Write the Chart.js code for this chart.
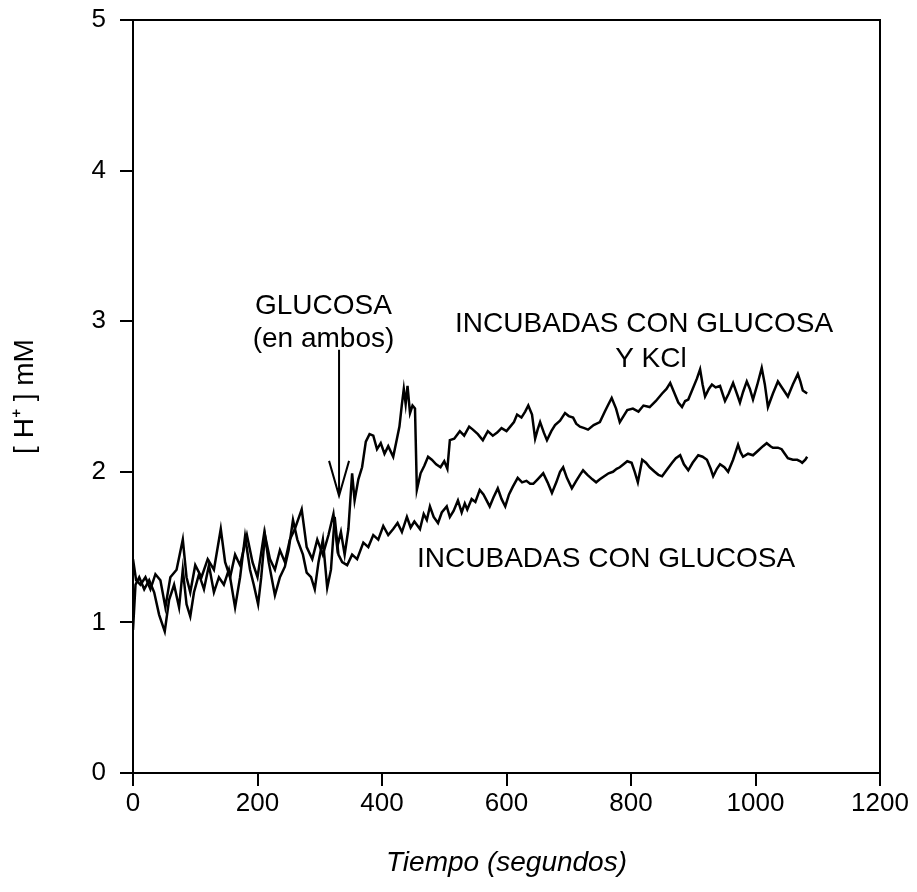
<!DOCTYPE html>
<html lang="es">
<head>
<meta charset="UTF-8">
<title>[H+] frente al tiempo</title>
<script src="https://cdn.jsdelivr.net/npm/chart.js"></script>
<style>
    body { margin: 0; background: #fff; }
    #wrap { width: 917px; height: 892px; }
</style>
</head>
<body>
<div id="wrap"><canvas id="chartCanvas" width="917" height="892"></canvas></div>
<script>
// Incubadas con glucosa y KCl
const tiempoKcl = [0, 5, 12, 20, 28, 36, 44, 52, 60, 70, 80, 86, 92, 100, 110, 120, 130, 141, 148, 156,
    164, 172, 183, 192, 200, 211, 220, 228, 236, 244, 252, 260, 271, 279, 288, 296, 305, 314, 322, 328,
    334, 340, 346, 352, 356, 362, 368, 374, 380, 386, 392, 398, 404, 410, 418, 424, 428, 432, 435, 438,
    441, 445, 449, 453, 456, 462, 468, 474, 480, 487, 494, 500, 505, 509, 516, 525, 532, 540, 546, 554,
    562, 570, 578, 585, 592, 600, 606, 612, 617, 624, 630, 635, 641, 646, 650, 654, 660, 665, 672, 678,
    686, 694, 700, 707, 712, 718, 725, 731, 740, 750, 758, 764, 769, 776, 782, 788, 794, 803, 812, 820,
    830, 840, 850, 857, 863, 870, 876, 882, 887, 892, 899, 906, 911, 915, 919, 925, 930, 936, 943, 947,
    951, 957, 964, 970, 975, 980, 986, 991, 996, 1003, 1010, 1015, 1020, 1028, 1036, 1044, 1052, 1060, 1068, 1072,
    1076, 1083];
const hKcl = [1.42, 1.28, 1.25, 1.30, 1.22, 1.32, 1.28, 1.10, 1.30, 1.35, 1.55, 1.30, 1.20, 1.38, 1.30, 1.42, 1.35, 1.62, 1.40, 1.30,
    1.45, 1.38, 1.58, 1.40, 1.30, 1.60, 1.42, 1.35, 1.48, 1.40, 1.55, 1.62, 1.75, 1.50, 1.42, 1.55, 1.45, 1.58, 1.72, 1.50,
    1.60, 1.45, 1.62, 1.99, 1.81, 1.95, 2.03, 2.20, 2.25, 2.24, 2.15, 2.19, 2.12, 2.17, 2.10, 2.22, 2.30, 2.45, 2.55, 2.45,
    2.57, 2.39, 2.44, 2.42, 1.88, 1.99, 2.04, 2.10, 2.08, 2.05, 2.03, 2.07, 2.02, 2.21, 2.22, 2.27, 2.24, 2.30, 2.28, 2.25,
    2.21, 2.27, 2.24, 2.26, 2.29, 2.27, 2.30, 2.33, 2.38, 2.36, 2.40, 2.44, 2.38, 2.22, 2.28, 2.33, 2.26, 2.21, 2.27, 2.31,
    2.34, 2.39, 2.37, 2.36, 2.32, 2.30, 2.29, 2.28, 2.31, 2.33, 2.40, 2.45, 2.49, 2.42, 2.33, 2.37, 2.41, 2.42, 2.40, 2.44,
    2.43, 2.47, 2.52, 2.55, 2.59, 2.52, 2.46, 2.43, 2.47, 2.48, 2.55, 2.62, 2.68, 2.58, 2.50, 2.55, 2.58, 2.56, 2.57, 2.52,
    2.47, 2.52, 2.59, 2.52, 2.46, 2.53, 2.60, 2.55, 2.48, 2.58, 2.69, 2.58, 2.43, 2.52, 2.60, 2.55, 2.50, 2.58, 2.65, 2.60,
    2.54, 2.52];

// Incubadas con glucosa
const tiempoGlu = [0, 4, 10, 18, 26, 34, 42, 51, 58, 66, 74, 80, 86, 92, 98, 106, 114, 122, 130, 138,
    146, 154, 164, 172, 180, 188, 194, 201, 206, 212, 218, 228, 236, 244, 250, 257, 264, 273, 279, 286,
    292, 298, 305, 312, 318, 324, 330, 336, 344, 352, 360, 370, 378, 386, 394, 402, 410, 418, 425, 432,
    440, 446, 452, 461, 467, 472, 477, 483, 490, 496, 504, 509, 515, 522, 528, 533, 537, 544, 550, 557,
    563, 568, 573, 579, 586, 592, 598, 604, 610, 618, 625, 632, 638, 643, 650, 659, 666, 673, 680, 686,
    691, 697, 705, 712, 718, 723, 730, 738, 744, 750, 757, 764, 771, 777, 782, 788, 794, 801, 806, 811,
    818, 824, 830, 838, 844, 850, 857, 866, 872, 879, 885, 892, 899, 908, 915, 922, 928, 932, 938, 943,
    950, 956, 964, 972, 976, 980, 988, 996, 1004, 1012, 1018, 1024, 1028, 1036, 1042, 1047, 1052, 1060, 1067, 1072,
    1075, 1080, 1083];
const hGlu = [0.95, 1.25, 1.30, 1.22, 1.28, 1.20, 1.05, 0.94, 1.15, 1.25, 1.10, 1.35, 1.12, 1.04, 1.20, 1.32, 1.22, 1.38, 1.20, 1.30,
    1.25, 1.35, 1.10, 1.30, 1.57, 1.35, 1.25, 1.12, 1.30, 1.58, 1.40, 1.18, 1.30, 1.37, 1.48, 1.68, 1.55, 1.45, 1.33, 1.30,
    1.22, 1.40, 1.55, 1.23, 1.35, 1.70, 1.45, 1.40, 1.38, 1.45, 1.42, 1.53, 1.50, 1.58, 1.55, 1.64, 1.58, 1.62, 1.66, 1.60,
    1.70, 1.63, 1.67, 1.62, 1.72, 1.68, 1.77, 1.70, 1.66, 1.73, 1.77, 1.70, 1.74, 1.81, 1.73, 1.79, 1.75, 1.82, 1.80, 1.88,
    1.85, 1.81, 1.77, 1.83, 1.89, 1.82, 1.77, 1.85, 1.90, 1.96, 1.93, 1.94, 1.92, 1.92, 1.95, 1.99, 1.93, 1.86, 1.93, 2.00,
    2.03, 1.96, 1.89, 1.94, 1.98, 2.01, 1.98, 1.95, 1.93, 1.95, 1.97, 1.99, 2.00, 2.02, 2.03, 2.05, 2.07, 2.06, 2.00, 1.93,
    2.08, 2.06, 2.03, 2.00, 1.98, 1.97, 2.01, 2.06, 2.09, 2.11, 2.05, 2.01, 2.06, 2.11, 2.10, 2.08, 2.02, 1.97, 2.02, 2.05,
    2.03, 2.00, 2.08, 2.18, 2.13, 2.10, 2.12, 2.11, 2.14, 2.17, 2.19, 2.17, 2.16, 2.16, 2.15, 2.12, 2.09, 2.08, 2.08, 2.07,
    2.06, 2.08, 2.10];

const xTicks = [0, 200, 400, 600, 800, 1000, 1200];
const yTicks = [0, 1, 2, 3, 4, 5];

const fuente = '"Liberation Sans", Arial, sans-serif';

// rotulos en coordenadas de datos
const notas = [
    { text: 'GLUCOSA', t: 306, h: 3.10 },
    { text: '(en ambos)', t: 306, h: 2.88 },
    { text: 'INCUBADAS CON GLUCOSA', t: 821, h: 2.98 },
    { text: 'Y KCl', t: 832, h: 2.75 },
    { text: 'INCUBADAS CON GLUCOSA', t: 760, h: 1.42 }
];
const flecha = { t: 331, desde: 2.81, hasta: 1.84 };

const extras = {
    id: 'extras',
    afterDraw(chart) {
        const { ctx, chartArea: a, scales: { x, y } } = chart;
        ctx.save();
        ctx.strokeStyle = '#000';
        ctx.lineWidth = 2;
        ctx.beginPath();
        ctx.moveTo(a.left, a.top);
        ctx.lineTo(a.right, a.top);
        ctx.lineTo(a.right, a.bottom);
        ctx.stroke();

        ctx.fillStyle = '#000';
        ctx.font = '28px ' + fuente;
        ctx.textAlign = 'center';
        ctx.textBaseline = 'middle';
        notas.forEach(n => ctx.fillText(n.text, x.getPixelForValue(n.t), y.getPixelForValue(n.h)));

        const ax = x.getPixelForValue(flecha.t);
        const y0 = y.getPixelForValue(flecha.desde);
        const y1 = y.getPixelForValue(flecha.hasta);
        ctx.lineWidth = 2;
        ctx.beginPath();
        ctx.moveTo(ax, y0);
        ctx.lineTo(ax, y1);
        ctx.moveTo(ax - 10, y1 - 35);
        ctx.lineTo(ax, y1);
        ctx.lineTo(ax + 10, y1 - 35);
        ctx.stroke();
        ctx.restore();
    }
};

const linea = { borderColor: '#000', borderWidth: 2.5, pointRadius: 0, fill: false, tension: 0 };

new Chart(document.getElementById('chartCanvas').getContext('2d'), {
    type: 'scatter',
    data: {
        datasets: [
            Object.assign({ label: 'Incubadas con glucosa y KCl', showLine: true,
                data: tiempoKcl.map((t, i) => ({ x: t, y: hKcl[i] })) }, linea),
            Object.assign({ label: 'Incubadas con glucosa', showLine: true,
                data: tiempoGlu.map((t, i) => ({ x: t, y: hGlu[i] })) }, linea)
        ]
    },
    options: {
        responsive: false,
        animation: false,
        layout: { padding: { top: 20, right: 37, left: 0, bottom: 0 } },
        plugins: { legend: { display: false }, tooltip: { enabled: false } },
        scales: {
            x: {
                type: 'linear', min: 0, max: 1200,
                afterBuildTicks: s => { s.ticks = xTicks.map(v => ({ value: v })); },
                afterFit: s => { s.height = 119; s.paddingLeft = 0; s.paddingRight = 0; },
                grid: { display: true, drawOnChartArea: false, drawTicks: true, tickLength: 13, color: '#000', lineWidth: 2 },
                border: { display: true, color: '#000', width: 2 },
                ticks: { color: '#000', font: { family: fuente, size: 26 }, padding: 2, maxRotation: 0,
                    callback: v => String(v) },
                title: { display: true, text: 'Tiempo (segundos)', color: '#000',
                    font: { family: fuente, size: 28, style: 'italic' }, padding: { top: 0, bottom: 12 } }
            },
            y: {
                type: 'linear', min: 0, max: 5,
                afterBuildTicks: s => { s.ticks = yTicks.map(v => ({ value: v })); },
                afterFit: s => { s.width = 133; s.paddingTop = 0; s.paddingBottom = 0; },
                grid: { display: true, drawOnChartArea: false, drawTicks: true, tickLength: 13, color: '#000', lineWidth: 2 },
                border: { display: true, color: '#000', width: 2 },
                ticks: { color: '#000', font: { family: fuente, size: 26 }, padding: 14,
                    callback: v => String(v) },
                title: { display: true, text: '[ H\u207A ] mM', color: '#000',
                    font: { family: fuente, size: 28 }, padding: { top: 8, bottom: 0 } }
            }
        }
    },
    plugins: [extras]
});
</script>
</body>
</html>
